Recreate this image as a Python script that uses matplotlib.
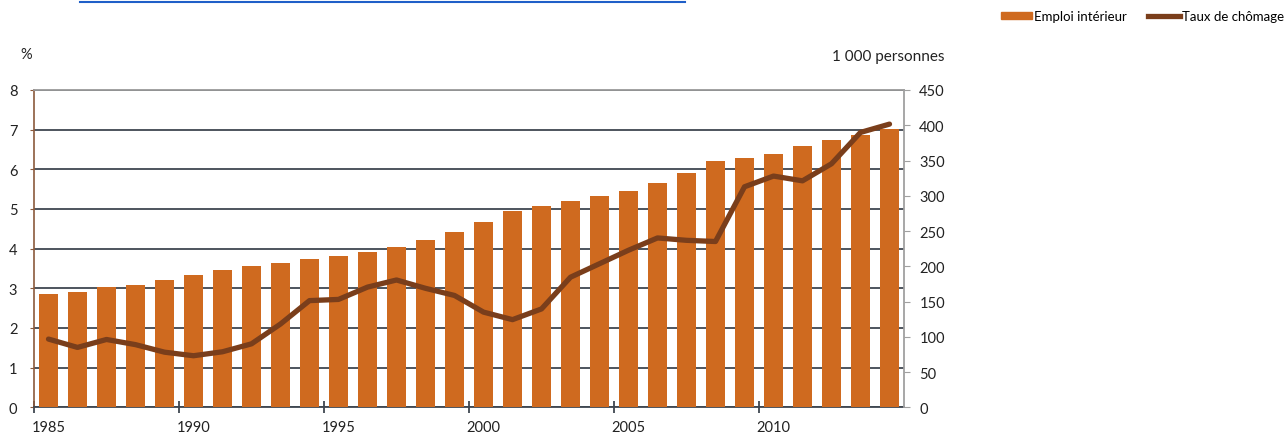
import matplotlib
matplotlib.use("Agg")
import matplotlib.pyplot as plt
from matplotlib.patches import Patch
from matplotlib.lines import Line2D

plt.rcParams['font.family'] = ['Lato', 'DejaVu Sans']

# données
annees = list(range(1985, 2015))
emploi = [160, 164, 170, 174, 180, 188, 195, 201, 204, 210,
          215, 220, 228, 237, 249, 263, 278, 286, 292, 299,
          307, 318, 332, 349, 353, 359, 370, 379, 386, 395]
chomage = [1.72, 1.51, 1.71, 1.58, 1.39, 1.30, 1.40, 1.60, 2.10, 2.69,
           2.72, 3.03, 3.21, 3.00, 2.82, 2.40, 2.21, 2.48, 3.28, 3.62,
           3.96, 4.27, 4.21, 4.18, 5.56, 5.83, 5.71, 6.14, 6.93, 7.14]
labels_annees = [1985, 1990, 1995, 2000, 2005, 2010]

c_barre = '#CF6A1F'
c_ligne = '#7A3E1B'
c_grille = '#3F4750'
c_texte = '#222222'

fig = plt.figure(figsize=(12.87, 4.35), dpi=100)
ax = fig.add_axes([34 / 1287, 1 - 408.3 / 435, 870 / 1287, 317.3 / 435])

# axe gauche (%) + grille
ax.set_xlim(1984.5, 2014.5)
ax.set_ylim(0, 8)
ax.set_yticks(range(0, 9))
ax.grid(axis='y', color=c_grille, linewidth=1.3)
ax.set_axisbelow(True)
ax.tick_params(axis='y', length=3, color='#8B5A3C', labelsize=10.5, labelcolor=c_texte, pad=9)
ax.spines['left'].set_color('#8B5A3C')
ax.spines['left'].set_linewidth(1.2)
ax.spines['top'].set_visible(False)
ax.spines['right'].set_visible(False)
ax.spines['bottom'].set_color(c_grille)
ax.spines['bottom'].set_linewidth(1.3)

# ticks x : traits entre catégories, étiquettes centrées
ax.set_xticks([1984.5 + 5 * k for k in range(6)])
ax.set_xticklabels([])
ax.tick_params(axis='x', which='major', direction='inout', length=9, width=1.3, color=c_grille)
ax.set_xticks(labels_annees, minor=True)
ax.tick_params(axis='x', which='minor', length=0, labelsize=10.5, labelcolor=c_texte, pad=9)
ax.set_xticklabels([str(a) for a in labels_annees], minor=True)

# axe droit : barres
ax2 = ax.twinx()
ax2.bar(annees, emploi, width=0.65, color=c_barre)
ax2.set_ylim(0, 450)
ax2.set_yticks(range(0, 451, 50))
ax2.tick_params(axis='y', length=4, color='#A0A0A0', labelsize=10.5, labelcolor=c_texte, pad=7)
for s in ['left', 'top', 'bottom']:
    ax2.spines[s].set_visible(False)
ax2.spines['right'].set_color('#A0A0A0')
ax2.spines['right'].set_linewidth(1.3)
ax2.plot([1984.5, 2014.5], [450, 450], color='#9A9A9A', linewidth=1.3, clip_on=False)

# ligne : taux de chômage (échelle %)
ax3 = ax.twinx()
ax3.plot(annees, chomage, color=c_ligne, linewidth=3.8, solid_capstyle='round')
ax3.set_ylim(0, 8)
ax3.set_axis_off()

fig.text(20 / 1287, 1 - 55 / 435, '%', fontsize=10.5, color=c_texte, va='center')
fig.text(944 / 1287, 1 - 57 / 435, '1 000 personnes', fontsize=11, color=c_texte,
         ha='right', va='center')

# légende
handles = [Patch(color=c_barre), Line2D([], [], color=c_ligne, linewidth=3.8)]
fig.legend(handles, ['Emploi intérieur', 'Taux de chômage'], loc='center right',
           bbox_to_anchor=(1284 / 1287, 1 - 17 / 435), ncol=2, frameon=False, fontsize=9.5,
           handlelength=2.4, handleheight=0.5, handletextpad=0.15, columnspacing=1.6,
           borderpad=0, borderaxespad=0)

# lien source coupé en haut
fig.add_artist(Line2D([80 / 1287, 685 / 1287], [1 - 3 / 435, 1 - 3 / 435],
                      color='#1F5FC8', linewidth=1.5))

fig.savefig('out.png', dpi=100)
